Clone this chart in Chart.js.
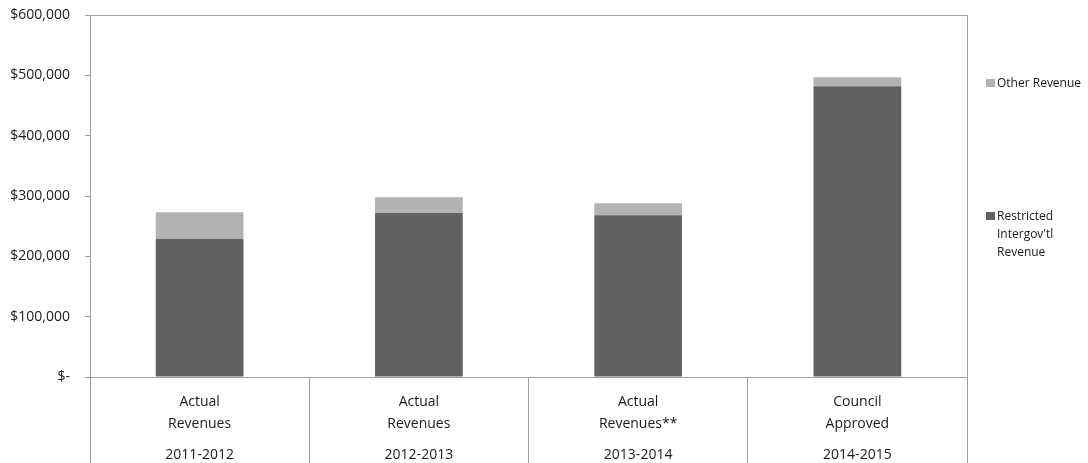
<!DOCTYPE html>
<html>
<head>
<meta charset="utf-8">
<script src="https://cdn.jsdelivr.net/npm/chart.js@4"></script>
<style>
  html, body { margin: 0; padding: 0; background: #fff; }
  #wrap { position: relative; width: 1088px; height: 463px; }
  #legend { position: absolute; left: 986px; top: 0; font-family: "Open Sans", sans-serif; font-size: 12px; color: #1a1a1a; }
  .item { position: absolute; left: 0; white-space: nowrap; line-height: 18px; }
  .sw { position: absolute; left: 0; top: 5px; width: 9px; height: 8px; }
  .txt { position: absolute; left: 11px; top: 0; }
</style>
</head>
<body>
<div id="wrap">
  <canvas id="revChart" width="1088" height="463"></canvas>
  <div id="legend"></div>
</div>
<script>
// chart data
const categories = [['Actual', 'Revenues'], ['Actual', 'Revenues'], ['Actual', 'Revenues**'], ['Council', 'Approved']];
const fiscalYears = ['2011-2012', '2012-2013', '2013-2014', '2014-2015'];
const restrictedRevenue = [229000, 272000, 268000, 482000];
const otherRevenue = [44000, 26000, 20000, 15000];
const seriesNames = ['Restricted Intergov\'tl Revenue', 'Other Revenue'];
const yTicks = [0, 100000, 200000, 300000, 400000, 500000, 600000];

const lineColor = '#a0a0a0';
const textColor = '#1a1a1a';
const baseFont = { family: '"Open Sans", sans-serif', size: 14 };

// outline of the plot area (top + right edges)
const plotBorder = {
  id: 'plotBorder',
  afterDraw(chart) {
    const { ctx, chartArea: a } = chart;
    ctx.save();
    ctx.strokeStyle = lineColor;
    ctx.lineWidth = 1;
    ctx.strokeRect(Math.round(a.left) + 0.5, Math.round(a.top) + 0.5, Math.round(a.right - a.left), Math.round(a.bottom - a.top));
    ctx.restore();
  }
};

const ctx = document.getElementById('revChart').getContext('2d');
new Chart(ctx, {
  type: 'bar',
  data: {
    labels: categories,
    datasets: [
      { label: seriesNames[0], data: restrictedRevenue, backgroundColor: '#616161', borderWidth: 0 },
      { label: seriesNames[1], data: otherRevenue, backgroundColor: '#b3b3b3', borderWidth: 0 }
    ]
  },
  options: {
    responsive: false,
    animation: false,
    barPercentage: 0.4,
    categoryPercentage: 1,
    layout: { padding: { top: 15, right: 121, left: 0, bottom: 0 } },
    plugins: { legend: { display: false }, tooltip: { enabled: false } },
    scales: {
      x: {
        stacked: true,
        weight: 0,
        offset: true,
        grid: { offset: true, drawOnChartArea: false, tickLength: 56, color: lineColor },
        border: { color: lineColor },
        ticks: { padding: -42, color: textColor, font: { ...baseFont, lineHeight: 1.55 }, maxRotation: 0, autoSkip: false },
        afterFit: (s) => { s.height = 56; }
      },
      x2: {
        type: 'category',
        position: 'bottom',
        labels: fiscalYears,
        weight: 1,
        offset: true,
        grid: { offset: true, drawOnChartArea: false, tickLength: 30, color: lineColor },
        border: { display: false },
        ticks: { padding: -16, color: textColor, font: baseFont, maxRotation: 0, autoSkip: false },
        afterFit: (s) => { s.height = 30; }
      },
      y: {
        stacked: true,
        min: 0,
        max: 600000,
        grid: { drawOnChartArea: false, tickLength: 5, color: lineColor },
        border: { color: lineColor },
        afterBuildTicks: (s) => { s.ticks = yTicks.map(v => ({ value: v })); },
        afterFit: (s) => { s.width = 90; s.paddingTop = 0; s.paddingBottom = 0; },
        ticks: {
          padding: 15,
          color: textColor,
          font: baseFont,
          callback: (v) => v === 0 ? '$-' : '$' + Number(v).toLocaleString('en-US')
        }
      }
    }
  },
  plugins: [plotBorder]
});

// legend (Excel-style, right side)
const legendItems = [
  { color: '#b3b3b3', top: 74, lines: ['Other Revenue'] },
  { color: '#616161', top: 207, lines: ['Restricted', 'Intergov\'tl', 'Revenue'] }
];
const legendEl = document.getElementById('legend');
legendItems.forEach(it => {
  const d = document.createElement('div');
  d.className = 'item';
  d.style.top = it.top + 'px';
  d.innerHTML = '<span class="sw" style="background:' + it.color + '"></span><span class="txt">' + it.lines.join('<br>') + '</span>';
  legendEl.appendChild(d);
});
</script>
</body>
</html>
